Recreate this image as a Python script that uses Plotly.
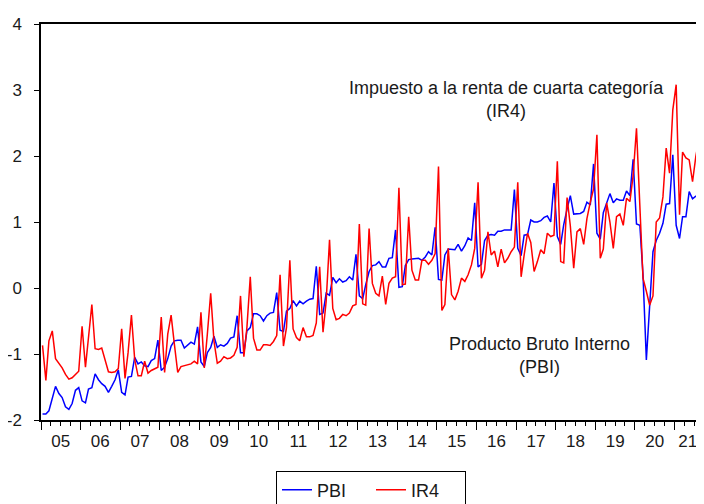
import pandas as pd
import plotly.graph_objects as go

# monthly series, 2005M01 - 2021M08
meses = pd.date_range("2005-01-01", periods=200, freq="MS") + pd.Timedelta(days=14)

pbi = [
    -1.91, -1.91, -1.86, -1.67, -1.49, -1.60, -1.66, -1.80, -1.84, -1.75, -1.55, -1.51,  # 05
    -1.71, -1.74, -1.53, -1.51, -1.30, -1.39, -1.45, -1.49, -1.58, -1.49, -1.39, -1.24,  # 06
    -1.58, -1.62, -1.35, -1.34, -1.05, -1.15, -1.12, -1.18, -1.19, -1.10, -1.07, -0.79,  # 07
    -1.25, -1.20, -1.07, -0.88, -0.80, -0.79, -0.79, -0.91, -0.87, -0.82, -0.85, -0.59,  # 08
    -1.12, -1.19, -0.98, -0.90, -0.73, -0.90, -0.86, -0.88, -0.84, -0.76, -0.74, -0.42,  # 09
    -0.98, -0.98, -0.65, -0.60, -0.39, -0.39, -0.42, -0.50, -0.42, -0.38, -0.37, -0.07,  # 10
    -0.64, -0.66, -0.35, -0.31, -0.19, -0.27, -0.20, -0.24, -0.20, -0.17, -0.16, 0.33,   # 11
    -0.40, -0.38, -0.08, -0.11, 0.16, 0.08, 0.14, 0.09, 0.11, 0.17, 0.12, 0.51,          # 12
    -0.12, -0.16, 0.05, 0.25, 0.34, 0.35, 0.40, 0.32, 0.32, 0.45, 0.46, 0.88,            # 13
    0.01, 0.02, 0.34, 0.43, 0.44, 0.45, 0.45, 0.42, 0.47, 0.55, 0.50, 0.92,              # 14
    0.13, 0.12, 0.50, 0.59, 0.58, 0.58, 0.66, 0.56, 0.64, 0.76, 0.72, 1.29,              # 15
    0.32, 0.36, 0.72, 0.80, 0.81, 0.80, 0.86, 0.86, 0.88, 0.88, 0.88, 1.49,              # 16
    0.60, 0.49, 0.80, 0.81, 1.03, 1.00, 1.00, 1.02, 1.07, 1.09, 1.00, 1.59,              # 17
    0.78, 0.66, 0.96, 1.20, 1.40, 1.12, 1.13, 1.13, 1.16, 1.30, 1.26, 1.88,              # 18
    0.83, 0.74, 1.14, 1.30, 1.43, 1.29, 1.35, 1.33, 1.33, 1.47, 1.40, 1.95,              # 19
    0.97, 0.95, 0.20, -1.09, -0.35, 0.55, 0.72, 0.83, 0.98, 1.27, 1.28, 2.02,            # 20
    0.95, 0.75, 1.08, 1.08, 1.46, 1.35, 1.39, 1.41,                                      # 21
]

ir4 = [
    -0.87, -1.40, -0.80, -0.65, -1.07, -1.14, -1.21, -1.31, -1.38, -1.36, -1.31, -1.26,  # 05
    -0.58, -1.20, -0.75, -0.25, -0.92, -0.93, -0.91, -1.10, -1.27, -1.28, -1.27, -1.22,  # 06
    -0.62, -1.37, -0.98, -0.41, -1.08, -1.33, -1.33, -1.11, -1.29, -1.25, -1.23, -1.20,  # 07
    -0.44, -1.28, -0.70, -0.41, -0.85, -1.28, -1.19, -1.18, -1.16, -1.15, -1.11, -1.15,  # 08
    -0.37, -1.21, -0.70, -0.08, -0.80, -1.14, -1.11, -1.04, -1.07, -1.06, -1.02, -0.90,  # 09
    -0.12, -1.04, -0.60, 0.17, -0.76, -0.94, -0.94, -0.86, -0.86, -0.87, -0.81, -0.72,   # 10
    0.20, -0.88, -0.60, 0.42, -0.62, -0.75, -0.80, -0.60, -0.74, -0.74, -0.72, -0.53,    # 11
    0.32, -0.67, -0.20, 0.73, -0.31, -0.48, -0.46, -0.40, -0.42, -0.38, -0.27, -0.25,    # 12
    0.97, -0.24, -0.26, 0.90, 0.07, -0.08, -0.12, 0.18, -0.25, 0.07, 0.15, 0.17,         # 13
    1.52, 0.05, 0.06, 1.08, 0.27, 0.12, 0.12, 0.42, 0.42, 0.36, 0.42, 0.52,              # 14
    1.84, -0.34, -0.25, 0.60, -0.10, -0.18, -0.05, 0.15, 0.10, 0.20, 0.35, 0.60,         # 15
    1.60, 0.15, 0.27, 0.85, 0.50, 0.56, 0.32, 0.59, 0.38, 0.45, 0.55, 0.62,              # 16
    1.60, 0.17, 0.50, 0.83, 0.69, 0.25, 0.40, 0.58, 0.52, 0.83, 0.78, 0.80,              # 17
    1.92, 0.40, 0.38, 1.37, 0.94, 0.30, 0.85, 0.90, 0.66, 1.05, 1.30, 1.50,              # 18
    2.32, 0.45, 0.59, 1.29, 1.00, 0.60, 1.08, 1.12, 0.95, 1.36, 1.31, 1.70,              # 19
    2.42, 1.30, 0.15, -0.05, -0.26, -0.12, 1.00, 1.06, 1.38, 2.12, 1.74, 2.70,           # 20
    3.08, 1.11, 2.06, 1.97, 1.94, 1.61, 1.99, 2.27,                                      # 21
]

# year labels sit in the middle of each (visible) year
etiquetas = ["05", "06", "07", "08", "09", "10", "11", "12", "13", "14", "15",
             "16", "17", "18", "19", "20", "21"]
pos_etiquetas = [f"20{e}-07-02" for e in etiquetas[:-1]] + ["2021-05-01"]

# y ticks with a plain hyphen, as in the original
y_ticks = [-2, -1, 0, 1, 2, 3, 4]
y_text = [str(v) for v in y_ticks]

fuente = "Liberation Sans, Arial, sans-serif"
rango = ["2005-01-01", "2021-09-01"]

fig = go.Figure()
fig.add_trace(go.Scatter(x=meses, y=pbi, name="PBI", mode="lines",
                         line=dict(color="#0000ff", width=1.5)))
fig.add_trace(go.Scatter(x=meses, y=ir4, name="IR4", mode="lines", xaxis="x2",
                         line=dict(color="#ff0000", width=1.5)))

fig.add_annotation(x=0.706, y=2.85, xref="paper", yref="y", xanchor="center",
                   showarrow=False,
                   text="Impuesto a la renta de cuarta categoría<br>(IR4)",
                   font=dict(size=18, color="#1a1a1a", family=fuente), align="center")
fig.add_annotation(x=0.755, y=-1.02, xref="paper", yref="y", xanchor="center",
                   showarrow=False,
                   text="Producto Bruto Interno<br>(PBI)",
                   font=dict(size=18, color="#1a1a1a", family=fuente), align="center")

# the page body has an 8px margin, so the figure is 8px smaller than the window
fig.update_layout(
    width=696, height=496,
    margin=dict(l=33, r=3, t=16, b=84, autoexpand=False),
    plot_bgcolor="white", paper_bgcolor="white",
    font=dict(family=fuente, size=17, color="#1a1a1a"),
    showlegend=True,
    legend=dict(orientation="h", x=0.5, xanchor="center", y=-0.177, yanchor="middle",
                bordercolor="#000000", borderwidth=1, font=dict(size=18),
                entrywidth=49, entrywidthmode="pixels", tracegroupgap=0),
    xaxis=dict(
        type="date", range=rango, automargin=False,
        dtick="M12", tick0="2005-01-01", showticklabels=False,
        ticks="outside", ticklen=8, tickcolor="#000", tickwidth=1,
        minor=dict(dtick="M3", ticks="outside", ticklen=4, tickcolor="#000"),
        showgrid=False, showline=True, linecolor="#000", linewidth=1.5, mirror=True,
    ),
    xaxis2=dict(
        type="date", range=rango, overlaying="x", anchor="y", side="bottom",
        automargin=False, tickmode="array", tickvals=pos_etiquetas, ticktext=etiquetas,
        ticks="outside", ticklen=6, tickcolor="rgba(0,0,0,0)",
        showgrid=False, showline=False, zeroline=False,
    ),
    yaxis=dict(
        range=[-2, 4], tickmode="array", tickvals=y_ticks, ticktext=y_text,
        ticks="outside", ticklen=5, tickcolor="#000", ticklabelstandoff=9,
        automargin=False, showgrid=False, zeroline=False, showline=True,
        linecolor="#000", linewidth=1.5, mirror=True,
    ),
)

fig.write_html("out.html")
